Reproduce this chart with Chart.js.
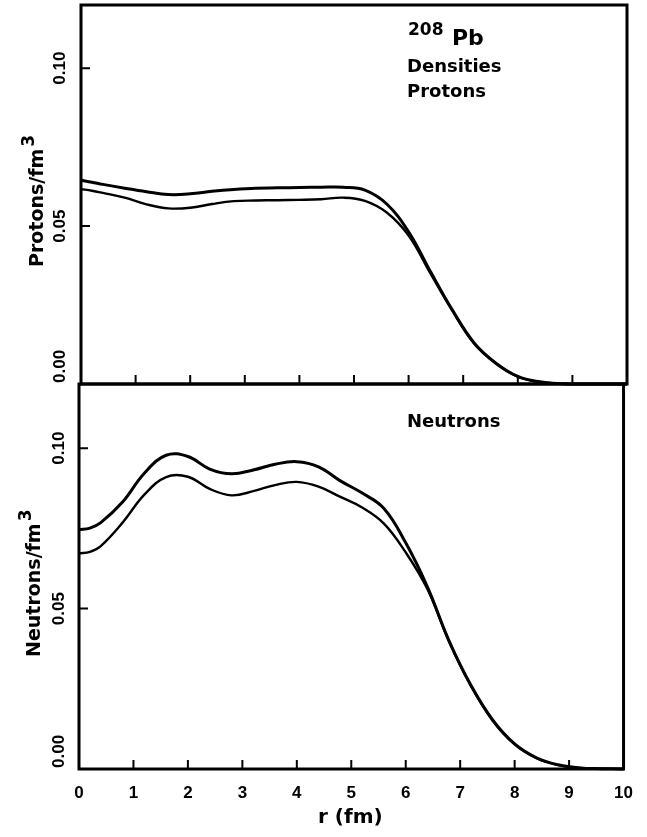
<!DOCTYPE html>
<html>
<head>
<meta charset="utf-8">
<script src="https://cdn.jsdelivr.net/npm/chart.js@4.4.1/dist/chart.umd.min.js"></script>
<style>
  html, body { margin: 0; padding: 0; background: #fff; }
  #wrap { position: relative; width: 647px; height: 837px; }
  canvas { position: absolute; left: 0; top: 0; }
</style>
</head>
<body>
<div id="wrap">
  <canvas id="protonChart" width="647" height="837"></canvas>
  <canvas id="neutronChart" width="647" height="837"></canvas>
</div>
<script>
// r (fm) sample points
const radius = [0, 0.2, 0.4, 0.8, 1.2, 1.6, 2.0, 2.4, 2.8, 3.2, 3.6, 4.0, 4.4, 4.8, 5.2, 5.6, 6.0, 6.4, 6.8, 7.2, 7.6, 8.0, 8.4, 8.8, 9.2, 9.6, 10.0];

const protonUpper = [0.0645, 0.0639, 0.0632, 0.0620, 0.0609, 0.0600, 0.0602, 0.0610, 0.0616, 0.0620, 0.0621, 0.0622, 0.0623, 0.0623, 0.0614, 0.0570, 0.0482, 0.0356, 0.0235, 0.0130, 0.0066, 0.0024, 0.0007, 0.0001, 0, 0, 0];
const protonLower = [0.0617, 0.0612, 0.0605, 0.0590, 0.0569, 0.0556, 0.0558, 0.0570, 0.0579, 0.0581, 0.0582, 0.0583, 0.0585, 0.0590, 0.0580, 0.0543, 0.0470, 0.0350, 0.0232, 0.0128, 0.0064, 0.0023, 0.0006, 0.0001, 0, 0, 0];

const neutronUpper = [0.0746, 0.0751, 0.0768, 0.0832, 0.0922, 0.0978, 0.0974, 0.0935, 0.0920, 0.0932, 0.0950, 0.0958, 0.0942, 0.0898, 0.0860, 0.0812, 0.0705, 0.0567, 0.0398, 0.0260, 0.0152, 0.0078, 0.0035, 0.0013, 0.0003, 0.0001, 0];
const neutronLower = [0.0672, 0.0677, 0.0695, 0.0768, 0.0855, 0.0910, 0.0911, 0.0873, 0.0853, 0.0866, 0.0885, 0.0895, 0.0880, 0.0848, 0.0815, 0.0765, 0.0675, 0.0560, 0.0395, 0.0258, 0.0150, 0.0077, 0.0034, 0.0012, 0.0003, 0.0001, 0];

const xTickValues = [0, 1, 2, 3, 4, 5, 6, 7, 8, 9, 10];
const yTickValues = [0, 0.05, 0.10];

const toPoints = (ys) => radius.map((r, i) => ({ x: r, y: ys[i] }));

function lineSet(ys, width) {
    return {
        data: toPoints(ys),
        borderColor: '#000',
        borderWidth: width,
        pointRadius: 0,
        tension: 0.4,
        clip: 4
    };
}

// frame, inward ticks, rotated y labels, y title and notes
function framePlugin(cfg) {
    return {
        id: 'frame',
        afterDraw(chart) {
            const { ctx, chartArea: a, scales: { x, y } } = chart;
            ctx.save();
            ctx.strokeStyle = '#000';
            ctx.fillStyle = '#000';
            ctx.lineWidth = 3;
            ctx.strokeRect(a.left, a.top, a.width, a.height);

            ctx.lineWidth = 2;
            ctx.beginPath();
            x.ticks.forEach(t => {
                if (t.value <= 0 || t.value >= 10) return;
                const px = x.getPixelForValue(t.value);
                ctx.moveTo(px, a.bottom);
                ctx.lineTo(px, a.bottom - 9);
            });
            y.ticks.forEach(t => {
                if (t.value <= 0) return;
                const py = y.getPixelForValue(t.value);
                ctx.moveTo(a.left, py);
                ctx.lineTo(a.left + 9, py);
            });
            ctx.stroke();

            ctx.font = 'bold 17px "Liberation Sans"';
            ctx.textBaseline = 'middle';
            y.ticks.forEach(t => {
                const py = y.getPixelForValue(t.value);
                ctx.save();
                ctx.translate(cfg.tickLabelX, py);
                ctx.rotate(-Math.PI / 2);
                ctx.textAlign = t.value === 0 ? 'left' : 'center';
                ctx.fillText(t.value.toFixed(2), t.value === 0 ? 1 : 0, 0);
                ctx.restore();
            });

            // y title with superscript 3
            ctx.save();
            ctx.translate(cfg.titleX, cfg.titleStartY);
            ctx.rotate(-Math.PI / 2);
            ctx.textAlign = 'left';
            ctx.textBaseline = 'alphabetic';
            ctx.font = 'bold 19px "DejaVu Sans"';
            ctx.fillText(cfg.yTitle, 0, 0);
            const w = ctx.measureText(cfg.yTitle).width;
            ctx.font = 'bold 17px "DejaVu Sans"';
            ctx.fillText('3', w + 2, -9);
            ctx.restore();

            ctx.textAlign = 'left';
            ctx.textBaseline = 'alphabetic';
            cfg.notes.forEach(n => {
                ctx.font = n.font;
                ctx.fillText(n.text, n.x, n.y);
            });
            ctx.restore();
        }
    };
}

const baseY = {
    type: 'linear',
    display: false,
    min: 0,
    max: 0.12,
    afterBuildTicks: s => { s.ticks = yTickValues.map(v => ({ value: v })); }
};

new Chart(document.getElementById('protonChart'), {
    type: 'line',
    data: { datasets: [lineSet(protonUpper, 3), lineSet(protonLower, 2.4)] },
    options: {
        responsive: false,
        animation: false,
        layout: { padding: { left: 81, right: 20, top: 5, bottom: 453 } },
        plugins: { legend: { display: false }, tooltip: { enabled: false } },
        scales: {
            x: {
                type: 'linear', display: false, min: 0, max: 10,
                afterBuildTicks: s => { s.ticks = xTickValues.map(v => ({ value: v })); }
            },
            y: baseY
        }
    },
    plugins: [framePlugin({
        tickLabelX: 60, titleX: 43, titleStartY: 267, yTitle: 'Protons/fm',
        notes: [
            { text: '208', x: 408, y: 35, font: 'bold 17px "DejaVu Sans"' },
            { text: 'Pb', x: 452, y: 45, font: 'bold 22px "DejaVu Sans"' },
            { text: 'Densities', x: 407, y: 72, font: 'bold 18px "DejaVu Sans"' },
            { text: 'Protons', x: 407, y: 97, font: 'bold 18px "DejaVu Sans"' }
        ]
    })]
});

new Chart(document.getElementById('neutronChart'), {
    type: 'line',
    data: { datasets: [lineSet(neutronUpper, 3), lineSet(neutronLower, 2.4)] },
    options: {
        responsive: false,
        animation: false,
        layout: { padding: { left: 79, right: 22, top: 384, bottom: 0 } },
        plugins: { legend: { display: false }, tooltip: { enabled: false } },
        scales: {
            x: {
                type: 'linear', min: 0, max: 10,
                afterBuildTicks: s => { s.ticks = xTickValues.map(v => ({ value: v })); },
                afterFit: s => { s.height = 68; },
                grid: { display: false, drawTicks: false },
                border: { display: false },
                ticks: {
                    color: '#000',
                    padding: 14,
                    maxRotation: 0,
                    font: { family: 'Liberation Sans', size: 17, weight: 'bold' }
                },
                title: { display: false }
            },
            y: baseY
        }
    },
    plugins: [framePlugin({
        tickLabelX: 59, titleX: 40, titleStartY: 657, yTitle: 'Neutrons/fm',
        notes: [
            { text: 'Neutrons', x: 407, y: 427, font: 'bold 18px "DejaVu Sans"' },
            { text: 'r (fm)', x: 318, y: 823, font: 'bold 20px "DejaVu Sans"' }
        ]
    })]
});
</script>
</body>
</html>
